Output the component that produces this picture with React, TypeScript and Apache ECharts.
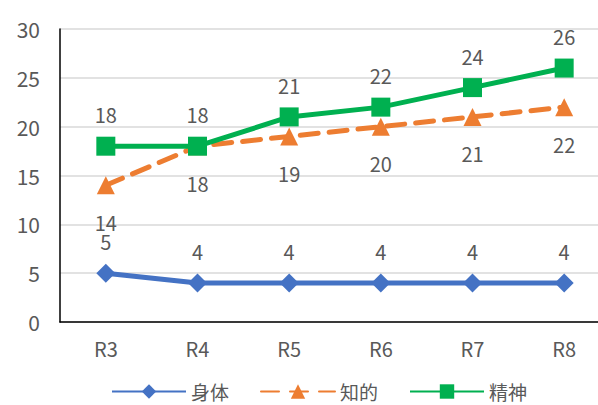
import React, { useEffect, useRef } from "react";
import * as echarts from "echarts";

const categories = ["R3", "R4", "R5", "R6", "R7", "R8"];
const shintai = [5, 4, 4, 4, 4, 4];
const chiteki = [14, 18, 19, 20, 21, 22];
const seishin = [18, 18, 21, 22, 24, 26];
const yTicks = { min: 0, max: 30, interval: 5 };

const FONT = "'Noto Sans CJK JP', 'Noto Sans', sans-serif";
const TEXT = "#595959";

export default function App() {
  const ref = useRef<HTMLDivElement>(null);
  useEffect(() => {
    if (!ref.current) return;
    const chart = echarts.init(ref.current, undefined, { renderer: "svg" });
    const label = (pos: "top" | "bottom", dist: number) => ({
      show: true,
      position: pos,
      distance: dist,
      color: TEXT,
      fontSize: 20,
      fontFamily: FONT,
    });
    chart.setOption({
      animation: false,
      textStyle: { fontFamily: FONT },
      grid: { left: 60, width: 550, top: 29, height: 293 },
      legend: {
        top: 377,
        left: 106,
        itemWidth: 74,
        itemHeight: 18,
        itemGap: 31,
        textStyle: { color: TEXT, fontSize: 19, fontFamily: FONT },
        data: ["身体", "知的", "精神"],
      },
      xAxis: {
        type: "category",
        data: categories,
        axisLine: { lineStyle: { color: "#000", width: 1.5 } },
        axisTick: { show: false },
        axisLabel: { color: TEXT, fontSize: 20, fontFamily: FONT, margin: 16 },
      },
      yAxis: {
        type: "value",
        min: yTicks.min,
        max: yTicks.max,
        interval: yTicks.interval,
        axisLine: { show: true, lineStyle: { color: "#000", width: 1.5 } },
        axisTick: { show: false },
        splitLine: { lineStyle: { color: "#d9d9d9", width: 1.5 } },
        axisLabel: { color: TEXT, fontSize: 21, fontFamily: FONT, margin: 20 },
      },
      series: [
        {
          name: "身体",
          type: "line",
          data: shintai,
          symbol: "diamond",
          symbolSize: 19,
          lineStyle: { color: "#4472c4", width: 5 },
          itemStyle: { color: "#4472c4" },
          label: label("top", 12),
        },
        {
          name: "知的",
          type: "line",
          data: chiteki,
          symbol: "triangle",
          symbolSize: 18,
          lineStyle: { color: "#ed7d31", width: 5, type: [18, 11], cap: "round" },
          itemStyle: { color: "#ed7d31" },
          label: label("bottom", 18),
        },
        {
          name: "精神",
          type: "line",
          data: seishin,
          symbol: "rect",
          symbolSize: 19,
          lineStyle: { color: "#00b050", width: 5 },
          itemStyle: { color: "#00b050" },
          label: label("top", 12),
        },
      ],
    });
    return () => chart.dispose();
  }, []);
  return (
    <div
      style={{
        position: "absolute",
        left: 0,
        top: 0,
        width: 598,
        height: 405,
        overflow: "hidden",
      }}
    >
      <div ref={ref} style={{ width: 612, height: 405 }} />
    </div>
  );
}
